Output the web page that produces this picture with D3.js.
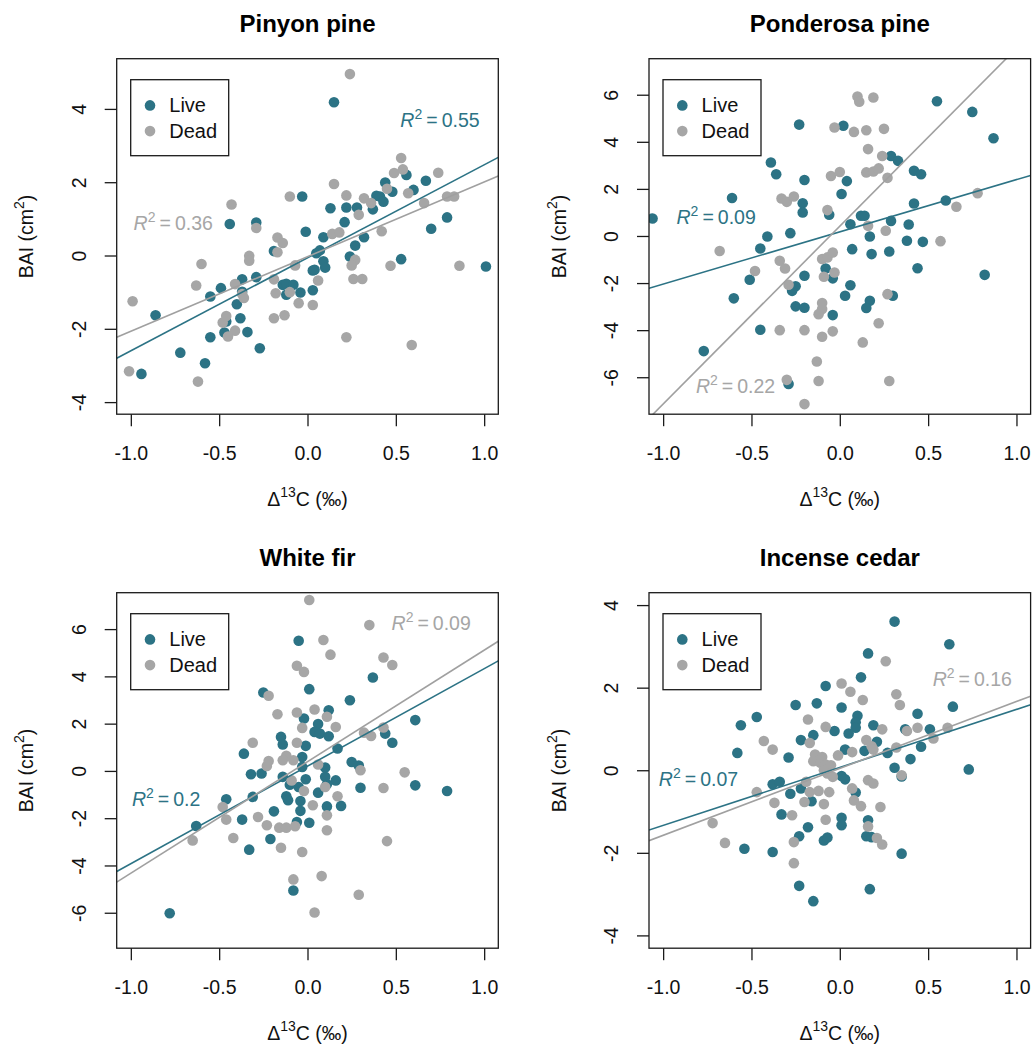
<!DOCTYPE html>
<html>
<head>
<meta charset="utf-8">
<script src="https://cdn.jsdelivr.net/npm/d3@7"></script>
<style>
  body { margin: 0; background: #fff; }
  svg { font-family: "Liberation Sans", Arial, Helvetica, sans-serif; }
</style>
</head>
<body>
<div id="chart"></div>
<script>
const titles = ['Pinyon pine', 'Ponderosa pine', 'White fir', 'Incense cedar'];
const xTicks = [-1, -0.5, 0, 0.5, 1];
const yTicks = [
  [-4, -2, 0, 2, 4],
  [-6, -4, -2, 0, 2, 4, 6],
  [-6, -4, -2, 0, 2, 4, 6],
  [-4, -2, 0, 2, 4]
];
const xDomain = [-1.08, 1.08];
const yDomains = [[-4.33, 5.37], [-7.57, 7.53], [-7.5, 7.54], [-4.31, 4.3]];

// [delta13C, BAI]
const pinyonLive = [[0.15,4.18],[0.56,2.2],[0.67,2.04],[0.44,1.99],[0.6,1.79],[0.48,1.74],[0.39,1.63],[0.41,1.61],[0.43,1.47],[-0.03,1.61],[0.13,1.29],[0.22,1.31],[0.28,1.31],[0.37,1.26],[0.21,0.91],[0.79,1.04],[0.7,0.73],[-0.44,0.86],[-0.29,0.9],[-0.01,0.65],[0.09,0.5],[0.32,0.5],[0.27,0.27],[0.07,0.14],[0.05,0.06],[-0.19,0.12],[0.09,-0.16],[0.1,-0.33],[0.03,-0.41],[0.04,-0.39],[0.24,-0.03],[0.53,-0.1],[1.01,-0.3],[-0.29,-0.59],[-0.37,-0.65],[-0.14,-0.8],[-0.12,-0.77],[-0.08,-0.8],[-0.12,-1.07],[-0.04,-1.01],[0.03,-0.95],[-0.49,-0.89],[-0.55,-1.12],[-0.37,-0.99],[-0.4,-1.33],[-0.38,-1.71],[-0.46,-1.8],[-0.47,-2.1],[-0.34,-2.09],[-0.55,-2.23],[-0.27,-2.53],[-0.86,-1.63],[-0.72,-2.65],[-0.58,-2.94],[-0.94,-3.23]];
const pinyonDead = [[0.24,4.95],[0.53,2.66],[0.54,2.35],[0.49,2.25],[0.74,2.26],[0.45,1.82],[0.57,1.7],[0.79,1.61],[0.83,1.61],[0.66,1.43],[0.15,1.95],[0.22,1.64],[0.32,1.56],[0.36,1.43],[0.29,1.11],[-0.1,1.61],[-0.43,1.39],[-0.29,0.75],[0.42,0.66],[0.14,0.59],[0.18,0.63],[-0.17,0.49],[-0.14,0.34],[-0.17,0.09],[-0.33,-0.01],[-0.33,-0.14],[0.27,-0.12],[0.25,-0.27],[0.47,-0.28],[0.86,-0.28],[-0.07,-0.27],[-0.6,-0.23],[-0.19,-0.65],[0.06,-0.68],[0.26,-0.64],[0.31,-0.64],[-0.41,-0.78],[-0.63,-0.82],[-0.37,-1.05],[-0.36,-1.16],[-0.18,-1.03],[-0.1,-1.0],[-0.05,-1.3],[0.03,-1.35],[-0.99,-1.25],[-0.46,-1.65],[-0.13,-1.63],[-0.19,-1.71],[-0.48,-1.83],[-0.41,-2.05],[-0.45,-2.21],[0.22,-2.23],[0.59,-2.44],[-1.01,-3.16],[-0.62,-3.44]];

const ponderosaLive = [[0.55,5.72],[0.75,5.27],[0.87,4.15],[-0.23,4.73],[0.02,4.68],[-0.39,3.12],[-0.36,2.62],[-0.2,2.38],[0.04,2.33],[0.29,3.4],[0.33,3.19],[0.42,2.77],[0.46,2.62],[0.01,1.78],[-0.61,1.61],[-0.21,1.39],[-0.21,1.0],[-0.06,0.9],[0.42,1.38],[0.6,1.51],[-1.06,0.74],[0.06,0.5],[0.12,0.86],[0.14,0.86],[0.29,0.64],[0.39,0.49],[-0.28,0.12],[-0.41,-0.02],[0.17,-0.02],[0.38,-0.2],[0.47,-0.25],[-0.45,-0.53],[0.07,-0.56],[0.18,-0.77],[0.28,-0.66],[0.44,-1.37],[0.82,-1.65],[-0.08,-1.38],[-0.04,-1.8],[-0.2,-1.69],[-0.51,-1.86],[-0.25,-2.14],[-0.27,-2.33],[0.06,-2.09],[0.03,-2.54],[0.3,-2.54],[0.17,-2.75],[0.15,-3.06],[-0.6,-2.65],[-0.25,-2.99],[-0.2,-3.05],[-0.04,-3.36],[-0.45,-3.98],[-0.77,-4.89],[-0.29,-6.29]];
const ponderosaDead = [[0.1,5.92],[0.11,5.7],[0.19,5.88],[-0.03,4.61],[0.08,4.42],[0.15,4.49],[0.25,4.55],[0.16,3.69],[0.24,3.4],[-0.05,2.55],[0.0,2.72],[0.15,2.7],[0.19,2.74],[0.22,2.87],[0.27,2.47],[-0.33,1.59],[-0.3,1.45],[-0.26,1.68],[-0.07,1.1],[0.78,1.82],[0.66,1.24],[0.16,0.43],[0.26,0.22],[0.57,-0.22],[-0.68,-0.64],[-0.34,-1.05],[-0.31,-1.38],[-0.48,-1.49],[-0.1,-0.98],[-0.07,-0.91],[-0.04,-0.7],[-0.03,-1.55],[-0.09,-1.73],[-0.29,-2.07],[0.27,-2.47],[-0.1,-2.85],[-0.1,-3.1],[-0.12,-3.32],[-0.34,-4.0],[-0.2,-4.0],[-0.1,-4.28],[-0.04,-4.05],[0.22,-3.71],[0.13,-4.52],[-0.13,-5.33],[-0.3,-6.11],[-0.12,-6.16],[0.28,-6.16],[-0.2,-7.14],[-0.42,7.75]];

const whiteFirLive = [[-0.05,5.51],[0.37,3.95],[0.01,3.46],[-0.25,3.32],[0.24,2.99],[0.12,2.57],[-0.02,2.22],[0.06,1.98],[0.04,1.65],[0.07,1.58],[0.12,1.47],[0.61,2.15],[-0.15,1.44],[-0.14,1.12],[-0.01,1.06],[-0.36,0.73],[-0.03,0.59],[0.17,0.95],[0.44,1.58],[0.48,1.19],[-0.03,0.17],[0.1,0.14],[0.25,0.38],[0.29,0.23],[-0.32,-0.14],[-0.26,-0.11],[-0.14,-0.25],[-0.01,-0.35],[0.1,-0.25],[0.16,-0.4],[-0.1,-0.58],[0.11,-0.56],[-0.05,-0.68],[0.06,-0.92],[0.3,-0.71],[0.61,-0.61],[0.79,-0.85],[-0.31,-1.1],[-0.46,-1.2],[-0.12,-1.07],[-0.11,-1.24],[-0.04,-1.27],[0.11,-1.5],[0.19,-1.48],[-0.04,-1.69],[-0.19,-1.71],[-0.37,-2.06],[-0.06,-2.16],[0.01,-2.19],[-0.63,-2.33],[-0.21,-2.88],[-0.33,-3.33],[-0.08,-5.06],[-0.78,-6.02]];
const whiteFirDead = [[0.01,7.23],[0.35,6.17],[0.09,5.54],[0.13,4.92],[-0.06,4.45],[-0.02,4.19],[0.43,4.8],[0.48,4.48],[-0.22,3.18],[-0.17,2.4],[-0.06,2.47],[0.04,2.6],[0.11,2.29],[-0.03,1.82],[0.16,1.86],[-0.06,1.19],[-0.31,1.19],[-0.12,0.64],[-0.14,0.45],[-0.08,0.45],[-0.22,0.42],[-0.23,0.21],[0.32,1.62],[0.36,1.48],[0.43,1.84],[0.06,0.27],[0.3,0.03],[0.55,-0.06],[-0.09,-0.4],[0.1,-0.68],[-0.02,-0.85],[0.43,-0.72],[0.17,-1.07],[0.03,-1.45],[-0.48,-1.53],[-0.46,-2.06],[-0.28,-1.95],[-0.23,-2.3],[-0.16,-2.4],[-0.12,-2.4],[-0.07,-2.34],[0.11,-1.88],[0.11,-2.51],[-0.42,-2.84],[-0.65,-2.94],[-0.15,-3.25],[-0.03,-3.43],[0.45,-2.97],[-0.08,-4.59],[0.08,-4.45],[0.29,-5.24],[0.04,-5.99]];

const cedarLive = [[0.31,3.6],[0.62,3.05],[0.16,2.83],[0.12,2.25],[-0.08,2.04],[-0.25,1.58],[-0.13,1.62],[0.01,1.52],[0.64,1.54],[-0.47,1.29],[-0.56,1.09],[0.1,1.32],[0.09,1.16],[0.09,1.03],[0.19,1.09],[0.44,1.37],[-0.03,0.95],[0.05,0.89],[-0.15,0.85],[-0.22,0.73],[0.37,0.99],[0.51,0.99],[0.21,0.69],[0.03,0.5],[0.14,0.47],[0.27,0.42],[0.46,0.57],[-0.58,0.42],[-0.29,0.31],[0.4,0.27],[0.31,0.06],[0.73,0.02],[0.01,-0.14],[0.03,-0.22],[0.35,-0.15],[-0.38,-0.34],[-0.34,-0.28],[-0.22,-0.44],[-0.28,-0.57],[0.09,-0.54],[-0.16,-0.75],[-0.33,-1.07],[0.01,-1.15],[0.01,-1.33],[0.16,-1.21],[-0.18,-1.38],[-0.23,-1.6],[-0.09,-1.7],[-0.07,-1.63],[0.15,-1.6],[0.18,-1.62],[-0.54,-1.9],[-0.38,-1.98],[0.35,-2.02],[-0.23,-2.8],[0.17,-2.88],[-0.15,-3.17]];
const cedarDead = [[0.26,2.64],[0.01,2.1],[0.06,1.9],[0.13,1.7],[0.32,1.84],[0.34,1.58],[-0.18,1.23],[-0.08,1.05],[0.24,0.99],[0.38,0.95],[0.44,1.03],[0.61,1.03],[-0.43,0.71],[-0.38,0.5],[-0.17,0.66],[0.15,0.73],[0.18,0.58],[0.19,0.5],[0.53,0.77],[0.32,0.55],[0.07,0.44],[-0.01,0.36],[-0.14,0.38],[-0.1,0.32],[-0.15,0.22],[-0.11,0.18],[-0.08,0.14],[-0.05,0.12],[-0.09,0.0],[-0.07,-0.08],[-0.04,-0.16],[0.35,-0.12],[-0.19,-0.28],[0.16,-0.24],[0.19,-0.32],[-0.47,-0.53],[-0.17,-0.53],[-0.12,-0.5],[-0.06,-0.53],[0.07,-0.44],[-0.37,-0.79],[-0.2,-0.77],[-0.09,-0.82],[0.08,-0.73],[0.12,-0.87],[0.23,-0.89],[-0.27,-1.09],[-0.08,-1.2],[-0.72,-1.28],[0.16,-1.36],[0.21,-1.64],[0.24,-1.8],[-0.65,-1.76],[-0.26,-1.74],[-0.26,-2.25]];

// regression fits: [intercept, slope]
const liveFits = [[-0.063, 2.537], [0.175, 2.219], [0.201, 4.125], [0.068, 1.405]];
const deadFits = [[-0.032, 2.037], [0.416, 7.555], [0.391, 4.718], [0.044, 1.621]];
const liveR2 = ['0.55', '0.09', '0.2', '0.07'];
const deadR2 = ['0.36', '0.22', '0.09', '0.16'];

const liveSets = [pinyonLive, ponderosaLive, whiteFirLive, cedarLive];
const deadSets = [pinyonDead, ponderosaDead, whiteFirDead, cedarDead];

// where each R^2 label sits, in data units
const liveLabelAt = [[0.75, 3.7], [-0.7, 0.785], [-0.8, -1.17], [-0.8, -0.22]];
const deadLabelAt = [[-0.76, 0.9], [-0.59, -6.36], [0.7, 6.24], [0.75, 2.21]];

const width = 1035;
const height = 1047;
const boxW = 381.6;
const boxH = 355.5;
const boxes = [
  {left: 116.7, top: 58.7},
  {left: 649, top: 58.7},
  {left: 116.7, top: 592.7},
  {left: 649, top: 592.7}
];
const teal = '#2c7385';
const gray = '#a6a6a6';
const ink = '#1a1a1a';
const tickLen = 12;
const fontSize = 19.5;
const radius = 5.3;

let svg = d3.select('#chart').append('svg')
  .attr('width', width)
  .attr('height', height)

let drawR2 = (g, x, y, value, color) => {
  let t = g.append('text')
    .attr('x', x)
    .attr('y', y)
    .attr('text-anchor', 'middle')
    .attr('fill', color)
    .style('font-size', fontSize + 'px')
  t.append('tspan').style('font-style', 'italic').text('R')
  t.append('tspan').attr('dy', -8).style('font-size', '14px').text('2')
  t.append('tspan').attr('dy', 8).attr('dx', 4).text('=')
  t.append('tspan').attr('dx', 4).text(value)
}

titles.forEach((title, i) => {
  let box = boxes[i];
  let g = svg.append('g')
    .attr('transform', `translate(${box.left}, ${box.top})`)

  let x = d3.scaleLinear().domain(xDomain).range([0, boxW]);
  let y = d3.scaleLinear().domain(yDomains[i]).range([boxH, 0]);

  g.append('clipPath')
    .attr('id', `clip${i}`)
    .append('rect')
      .attr('width', boxW)
      .attr('height', boxH)

  let plot = g.append('g').attr('clip-path', `url(#clip${i})`);

  plot.selectAll('circle.live').data(liveSets[i]).enter().append('circle')
    .classed('live', true)
    .attr('cx', d => x(d[0]))
    .attr('cy', d => y(d[1]))
    .attr('r', radius)
    .attr('fill', teal)

  plot.selectAll('circle.dead').data(deadSets[i]).enter().append('circle')
    .classed('dead', true)
    .attr('cx', d => x(d[0]))
    .attr('cy', d => y(d[1]))
    .attr('r', radius)
    .attr('fill', gray)

  let fitLine = (fit, color) => {
    plot.append('line')
      .attr('x1', x(xDomain[0]))
      .attr('y1', y(fit[0] + fit[1] * xDomain[0]))
      .attr('x2', x(xDomain[1]))
      .attr('y2', y(fit[0] + fit[1] * xDomain[1]))
      .attr('stroke', color)
      .attr('stroke-width', 1.6)
  }
  fitLine(liveFits[i], teal);
  fitLine(deadFits[i], '#a0a0a0');

  drawR2(g, x(liveLabelAt[i][0]), y(liveLabelAt[i][1]) + 7, liveR2[i], teal);
  drawR2(g, x(deadLabelAt[i][0]), y(deadLabelAt[i][1]) + 7, deadR2[i], gray);

  // axes
  let xAxis = d3.axisBottom(x)
    .tickValues(xTicks)
    .tickSize(tickLen)
    .tickFormat(d => d.toFixed(1))
  let gx = g.append('g')
    .attr('transform', `translate(0, ${boxH})`)
    .call(xAxis)
  gx.select('.domain').remove();
  gx.selectAll('line').attr('stroke', ink).attr('stroke-width', 1.3);
  gx.selectAll('text')
    .attr('y', 46)
    .attr('dy', 0)
    .attr('fill', '#111')
    .style('font-size', fontSize + 'px')
  gx.attr('font-family', null).attr('font-size', null);

  let yAxis = d3.axisLeft(y)
    .tickValues(yTicks[i])
    .tickSize(tickLen)
    .tickFormat(d => String(d))
  let gy = g.append('g').call(yAxis)
  gy.select('.domain').remove();
  gy.selectAll('line').attr('stroke', ink).attr('stroke-width', 1.3);
  gy.selectAll('text')
    .attr('x', 0)
    .attr('dy', 0)
    .attr('transform', 'translate(-31, 0) rotate(-90)')
    .attr('text-anchor', 'middle')
    .attr('fill', '#111')
    .style('font-size', fontSize + 'px')
  gy.attr('font-family', null).attr('font-size', null);

  g.append('rect')
    .attr('width', boxW)
    .attr('height', boxH)
    .attr('fill', 'none')
    .attr('stroke', ink)
    .attr('stroke-width', 1.3)

  // title and axis labels
  g.append('text')
    .attr('x', boxW / 2)
    .attr('y', -26.7)
    .attr('text-anchor', 'middle')
    .style('font-size', '24px')
    .style('font-weight', 'bold')
    .text(title)

  let xl = g.append('text')
    .attr('x', boxW / 2)
    .attr('y', boxH + 92)
    .attr('text-anchor', 'middle')
    .attr('fill', '#111')
    .style('font-size', fontSize + 'px')
  xl.append('tspan').text('\u0394')
  xl.append('tspan').attr('dy', -9).style('font-size', '14px').text('13')
  xl.append('tspan').attr('dy', 9).text('C (\u2030)')

  let yl = g.append('text')
    .attr('transform', `translate(-83.4, ${boxH / 2}) rotate(-90)`)
    .attr('text-anchor', 'middle')
    .attr('fill', '#111')
    .style('font-size', fontSize + 'px')
  yl.append('tspan').text('BAI (cm')
  yl.append('tspan').attr('dy', -9).style('font-size', '14px').text('2')
  yl.append('tspan').attr('dy', 9).text(')')

  // legend
  let legend = g.append('g').attr('transform', 'translate(14, 21)');
  legend.append('rect')
    .attr('width', 98)
    .attr('height', 76)
    .attr('fill', '#fff')
    .attr('stroke', ink)
    .attr('stroke-width', 1.3)
  let entries = [['Live', teal], ['Dead', gray]];
  entries.forEach((e, j) => {
    let cy = 25.7 + j * 25.7;
    legend.append('circle')
      .attr('cx', 19.3)
      .attr('cy', cy)
      .attr('r', radius)
      .attr('fill', e[1])
    legend.append('text')
      .attr('x', 38.6)
      .attr('y', cy + 7)
      .attr('fill', '#111')
      .style('font-size', '20px')
      .text(e[0])
  })
})
</script>
</body>
</html>
